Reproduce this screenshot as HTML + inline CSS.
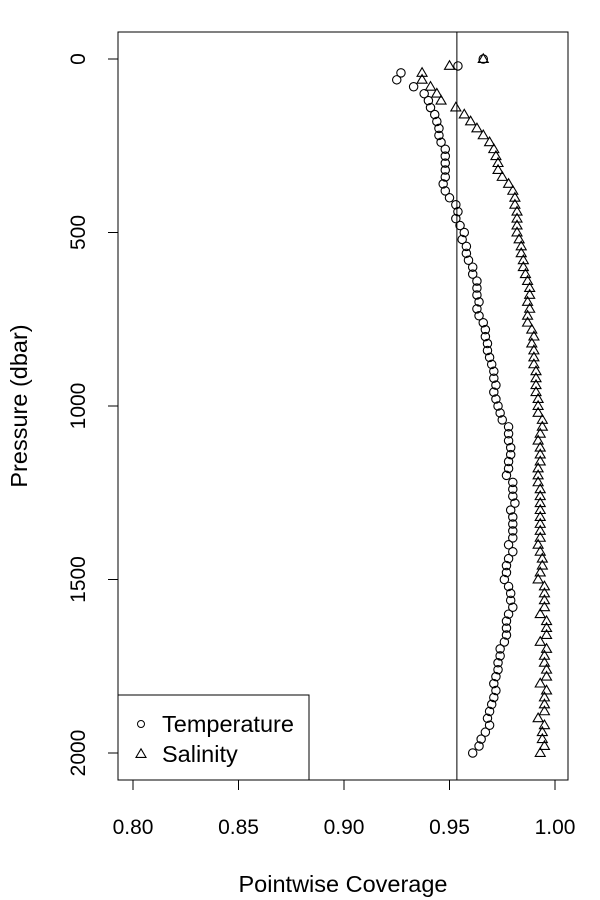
<!DOCTYPE html>
<html><head><meta charset="utf-8"><style>
body{margin:0;background:#fff}
svg{display:block;font-family:"Liberation Sans",Arial,sans-serif}
</style></head><body>
<svg id="chart" width="600" height="900" xmlns="http://www.w3.org/2000/svg"></svg>
<script>
const xTicks=[0.80,0.85,0.90,0.95,1.00];
const xTickLabels=["0.80","0.85","0.90","0.95","1.00"];
const yTicks=[0,500,1000,1500,2000];
const yTickLabels=["0","500","1000","1500","2000"];
const pressureStep=20;
const refLine=0.9535;
const temperature=[0.966,0.954,0.927,0.925,0.933,0.938,0.940,0.941,0.943,0.944,
0.945,0.945,0.946,0.948,0.948,0.948,0.948,0.948,0.947,0.948,
0.950,0.953,0.954,0.953,0.955,0.957,0.956,0.958,0.958,0.959,
0.961,0.961,0.963,0.963,0.963,0.964,0.963,0.964,0.966,0.967,
0.967,0.968,0.968,0.969,0.970,0.971,0.971,0.972,0.971,0.972,
0.973,0.974,0.975,0.978,0.978,0.978,0.979,0.979,0.978,0.978,
0.977,0.980,0.980,0.980,0.981,0.979,0.980,0.980,0.980,0.980,
0.978,0.980,0.978,0.977,0.977,0.976,0.978,0.979,0.979,0.980,
0.978,0.977,0.977,0.977,0.976,0.974,0.974,0.973,0.973,0.972,
0.971,0.972,0.971,0.970,0.969,0.968,0.969,0.967,0.965,0.964,
0.961];
const salinity=[0.966,0.950,0.937,0.937,0.941,0.944,0.946,0.953,0.957,0.960,
0.963,0.966,0.969,0.971,0.972,0.973,0.973,0.975,0.978,0.980,
0.981,0.981,0.982,0.982,0.982,0.982,0.983,0.984,0.984,0.985,
0.985,0.986,0.987,0.988,0.988,0.987,0.988,0.987,0.987,0.989,
0.990,0.989,0.990,0.990,0.990,0.991,0.991,0.991,0.991,0.992,
0.992,0.992,0.994,0.994,0.993,0.992,0.993,0.993,0.993,0.992,
0.992,0.992,0.993,0.993,0.993,0.993,0.993,0.993,0.993,0.993,
0.992,0.993,0.994,0.994,0.993,0.992,0.995,0.995,0.995,0.995,
0.993,0.996,0.996,0.996,0.993,0.996,0.995,0.995,0.996,0.996,
0.993,0.996,0.995,0.995,0.995,0.992,0.995,0.994,0.994,0.995,
0.993];
const NS="http://www.w3.org/2000/svg";
const svg=document.getElementById('chart');
const X=v=>133+(v-0.80)/0.20*422;
const Y=p=>59+p/2000*694;
function mk(tag,attrs,parent){const e=document.createElementNS(NS,tag);for(const k in attrs)e.setAttribute(k,attrs[k]);(parent||svg).appendChild(e);return e;}
const box=mk('rect',{x:118,y:32,width:450,height:748,fill:'none',stroke:'#000','stroke-width':1});


xTicks.forEach((t,i)=>{
 const l=mk('line',{x1:X(t),x2:X(t),y1:780,y2:790,stroke:'#000'});
 
 
 const tx=mk('text',{x:X(t),y:834,'text-anchor':'middle','font-size':21});
 tx.textContent=xTickLabels[i];
 
 
});
yTicks.forEach((t,i)=>{
 const l=mk('line',{x1:108,x2:118,y1:Y(t),y2:Y(t),stroke:'#000'});
 
 
 const tx=mk('text',{x:0,y:0,'text-anchor':'middle','font-size':21,transform:`translate(85,${Y(t)}) rotate(-90)`});
 tx.textContent=yTickLabels[i];
 
 
});
const xl=mk('text',{x:343,y:892,'text-anchor':'middle','font-size':23.5});
xl.textContent='Pointwise Coverage';


const yl=mk('text',{x:0,y:0,'text-anchor':'middle','font-size':23.5,transform:'translate(27,406) rotate(-90)'});
yl.textContent='Pressure (dbar)';


const rl=mk('line',{x1:X(refLine),x2:X(refLine),y1:32,y2:780,stroke:'#000'});


function tri(cx,cy,parent){return mk('polygon',{points:`${cx-5},${cy+3.4} ${cx+5},${cy+3.4} ${cx},${cy-5.2}`,fill:'none',stroke:'#000','stroke-width':1.1},parent);}
const gt=mk('g',{});
temperature.forEach((v,i)=>{
 const c=mk('circle',{cx:X(v),cy:Y(i*pressureStep),r:4.2,fill:'none',stroke:'#000','stroke-width':1.1},gt);
 
 
});
const gs=mk('g',{});
salinity.forEach((v,i)=>{
 const t=tri(X(v),Y(i*pressureStep),gs);
 
 
});
const lg=mk('g',{});
mk('rect',{x:118,y:695,width:191,height:85,fill:'#fff',stroke:'#000'},lg);
const lc=mk('circle',{cx:141,cy:724,r:3.5,fill:'none',stroke:'#000'},lg);


const lt1=mk('text',{x:162,y:732,'font-size':23.5},lg);lt1.textContent='Temperature';


const ls=tri(141,754,lg);


const lt2=mk('text',{x:162,y:762,'font-size':23.5},lg);lt2.textContent='Salinity';


</script>
</body></html>
